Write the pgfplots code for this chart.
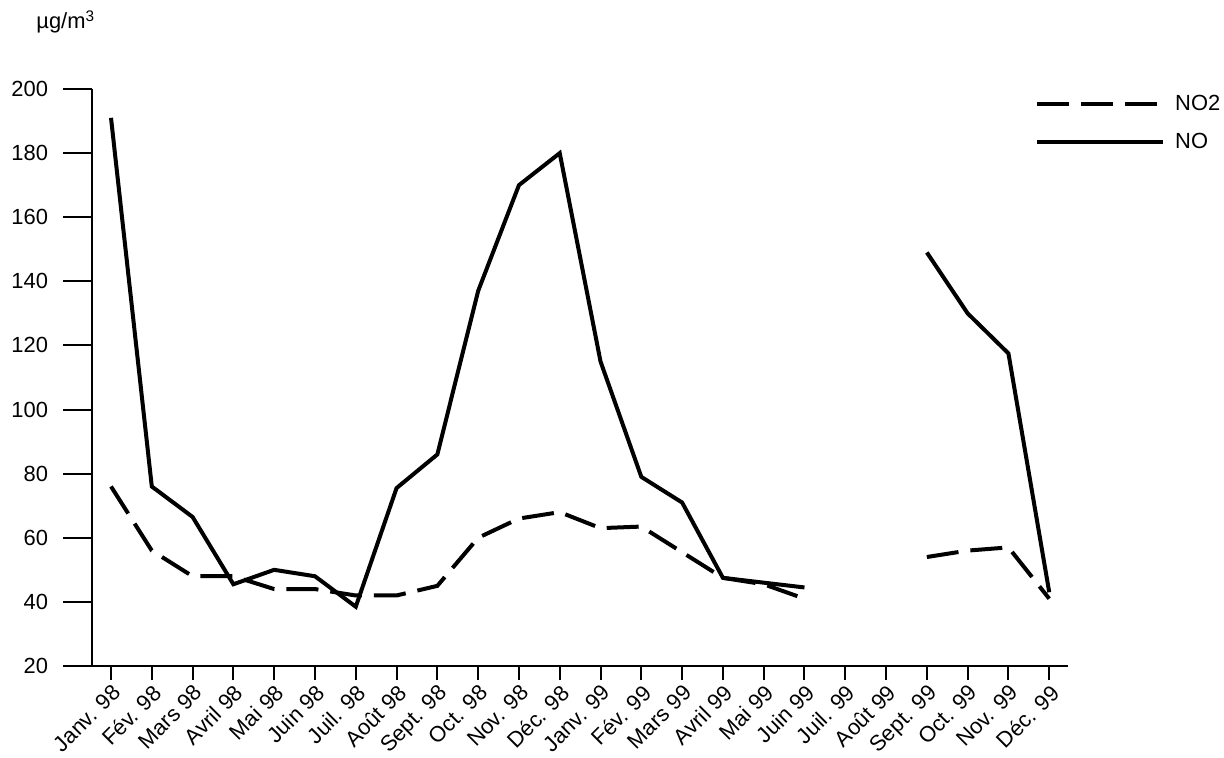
\documentclass[border=0pt]{standalone}
\usepackage{pgfplots}
\pgfplotsset{compat=1.18}
\usepackage{fontspec}
\setmainfont{Liberation Sans}
\pgfplotstableread{
x NO NOtwo
0 191 76
1 76 56
2 66.5 48
3 45.5 48
4 50 44
5 48 44
6 38.5 42
7 75.5 42
8 86 45
9 137 60
10 170 66
11 180 68
12 115 63
13 79 63.5
14 71 55.5
15 47.5 47.5
16 46 45.5
17 44.5 41
18 nan nan
19 nan nan
20 149 54
21 130 56
22 117.5 57
23 43 41
}\datatable
\begin{document}
\begin{tikzpicture}
\begin{axis}[
  scale only axis, width=488bp, height=288.5bp,
  xmin=-0.466, xmax=23.46, ymin=20, ymax=200,
  axis lines*=left,
  axis line style={line width=1bp, black},
  x axis line style={shorten <=-7bp},
  xtick={0,...,23},
  xticklabels={Janv. 98, Fév. 98, Mars 98, Avril 98, Mai 98, Juin 98, Juil. 98, Août 98, Sept. 98, Oct. 98, Nov. 98, Déc. 98, Janv. 99, Fév. 99, Mars 99, Avril 99, Mai 99, Juin 99, Juil. 99, Août 99, Sept. 99, Oct. 99, Nov. 99, Déc. 99},
  ytick={20,40,...,200},
  tick align=outside,
  major tick length=7bp,
  ytick style={/pgfplots/major tick length=14.5bp},
  tick style={line width=1bp, black},
  ticklabel style={font=\fontsize{11}{13}\selectfont},
  /pgf/number format/assume math mode=true,
  xticklabel style={rotate=45, anchor=north east, inner sep=1bp},
  yticklabel style={anchor=east, xshift=-11.5bp},
  unbounded coords=jump,
  clip=false,
  legend style={draw=none, fill=none, at={(rel axis cs:0.966,0.941)}, anchor=west,
    inner sep=0pt, row sep=10bp, column sep=5bp, font=\fontsize{11}{13}\selectfont,
    nodes={inner sep=0pt}},
  legend cell align=left,
  legend image code/.code={\draw[#1] (0bp,0bp) -- (63bp,0bp);},
]
\addplot[black, line width=2bp, dash pattern=on 16bp off 6bp] table[x=x, y=NOtwo] {\datatable};
\addlegendentry{NO2}
\addplot[black, line width=2bp] table[x=x, y=NO] {\datatable};
\addlegendentry{NO}
\node[anchor=base west, font=\fontsize{11}{13}\selectfont, inner sep=0pt] at ([xshift=-28bp, yshift=30bp]rel axis cs:0,1) {µg/m\textsuperscript{3}};
\coordinate (bbsw) at ([xshift=-46bp, yshift=-46bp]rel axis cs:0,0);
\coordinate (bbne) at ([xshift=78bp, yshift=44.5bp]rel axis cs:1,1);
\end{axis}
\pgfresetboundingbox
\path (bbsw) rectangle (bbne);
\end{tikzpicture}
\end{document}
